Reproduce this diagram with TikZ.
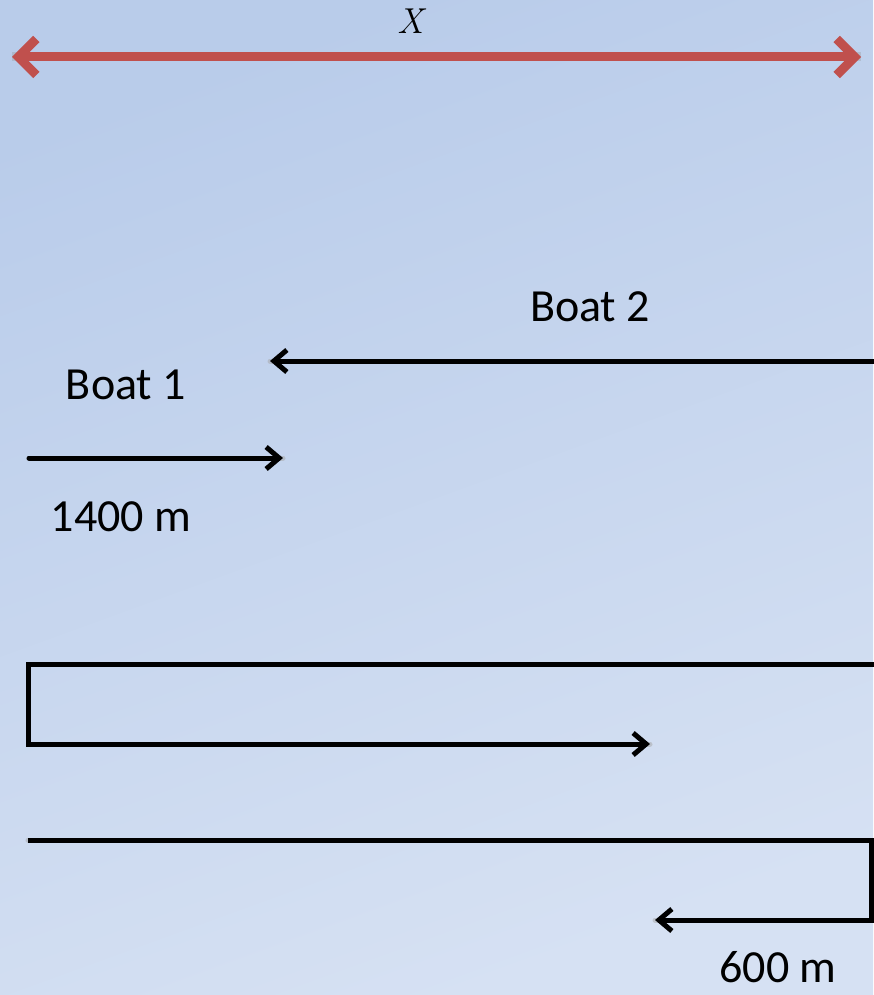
\documentclass[tikz,border=0pt]{standalone}
\usepackage{fontspec}
\setmainfont{Carlito}
\newfontfamily\xfont{Latin Modern Roman}
\usetikzlibrary{arrows.meta}
\definecolor{bgtop}{HTML}{B9CCEA}
\definecolor{bgbot}{HTML}{D6E1F3}
\definecolor{redarr}{HTML}{C0504D}
\tikzset{
  lbl/.style={font=\fontsize{46}{50}\selectfont, inner sep=0pt},
  blk/.style={line width=5pt, black, line cap=round},
  blkarrow/.style={blk, -{Straight Barb[length=13pt, width=22pt, line width=5pt]}},
  shadowline/.style={line width=5pt, black!35, opacity=0.5, line cap=round},
}
\begin{document}
\begin{tikzpicture}[x=1pt,y=-1pt]
\useasboundingbox (0,0) rectangle (873,995);
\shade[top color=bgtop, bottom color=bgbot, shading angle=20] (0,0) rectangle (873,995);
% coordinates
\coordinate (xl) at (12,57);
\coordinate (xr) at (861,57);
\coordinate (b2s) at (875,361);
\coordinate (b2e) at (270,361);
\coordinate (b1s) at (29,458);
\coordinate (b1e) at (283,458);
\coordinate (r1) at (875,664);
\coordinate (r2) at (28,664);
\coordinate (r3) at (28,744);
\coordinate (r4) at (650,744);
\coordinate (s1) at (28,840);
\coordinate (s2) at (871,840);
\coordinate (s3) at (871,920);
\coordinate (s4) at (655,920);
% shadows
\begin{scope}[shift={(1.5,2.5)}]
\draw[line width=9pt, black!40, opacity=0.35] (xl) -- (xr);
\draw[shadowline] (b2s) -- (b2e);
\draw[shadowline] (b1s) -- (b1e);
\draw[shadowline] (r1) -- (r2) -- (r3) -- (r4);
\draw[shadowline] (s1) -- (s2) -- (s3) -- (s4);
\end{scope}
% red double arrow
\draw[line width=9pt, redarr, line cap=round,
  {Straight Barb[length=18pt, width=36pt, line width=9pt]}-{Straight Barb[length=18pt, width=36pt, line width=9pt]}] (xl) -- (xr);
\node[inner sep=0pt, font=\xfont\itshape\fontsize{36}{38}\selectfont] (xlabel) at (411,21) {X};
% Boat 2
\node[lbl] (boat2) at (590,307) {Boat 2};
\draw[blkarrow] (b2s) -- (b2e);
% Boat 1
\node[lbl] (boat1) at (126,385) {Boat 1};
\draw[blkarrow] (b1s) -- (b1e);
\node[lbl] (d1400) at (121,517) {1400 m};
% lower paths
\draw[blkarrow, line cap=butt, line join=miter] (r1) -- (r2) -- (r3) -- (r4);
\draw[blkarrow, line cap=butt, line join=miter] (s1) -- (s2) -- (s3) -- (s4);
\node[lbl] (d600) at (778,967) {600 m};
\end{tikzpicture}
\end{document}
